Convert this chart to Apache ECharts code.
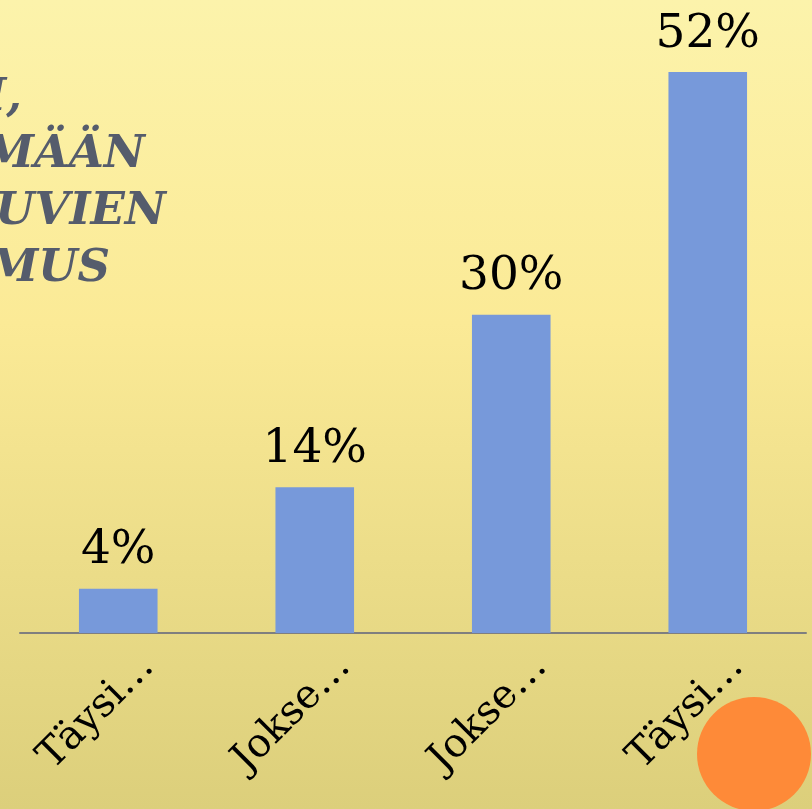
<!DOCTYPE html>
<html>
<head>
<meta charset="utf-8">
<script src="https://cdn.jsdelivr.net/npm/echarts@6/dist/echarts.min.js"></script>
<style>
html,body{margin:0;padding:0;}
#chart{width:812px;height:809px;}
</style>
</head>
<body>
<div id="chart"></div>
<script>
// data
var categories = ['Täysin eri mieltä', 'Jokseenkin eri mieltä', 'Jokseenkin samaa mieltä', 'Täysin samaa mieltä'];
var shortNames = ['Täysi…', 'Jokse…', 'Jokse…', 'Täysi…'];
var values = [4.1, 13.5, 29.5, 52];
var valueLabels = ['4%', '14%', '30%', '52%'];
var titleLines = ['M,', 'MÄÄN', 'UVIEN', 'MUS'];

var myChart = echarts.init(document.getElementById('chart'));

var titleRight = [22, 145, 166, 110];
var graphics = [];
for (var i = 0; i < titleLines.length; i++) {
	graphics.push({
		type: 'text',
		x: titleRight[i],
		y: 76 + i * 57,
		silent: true,
		style: {
			text: titleLines[i],
			align: 'right',
			fill: '#555c6c',
			font: 'italic bold 45px "DejaVu Serif"'
		}
	});
}
// orange dot in the corner
graphics.push({
	type: 'circle',
	x: 754,
	y: 754,
	silent: true,
	shape: {r: 57},
	style: {fill: '#fe8a38'}
});

var option = {
	animation: false,
	backgroundColor: new echarts.graphic.LinearGradient(0, 0, 0, 1, [
		{offset: 0, color: '#fcf3ab'},
		{offset: 0.4, color: '#fbea96'},
		{offset: 1, color: '#dccf7b'}
	]),
	grid: {
		left: 20,
		right: 6,
		top: 72,
		bottom: 176
	},
	xAxis: {
		type: 'category',
		data: categories,
		axisTick: {show: false},
		axisLine: {
			lineStyle: {color: '#7f7f7f', width: 2}
		},
		axisLabel: {
			interval: 0,
			rotate: 45,
			margin: -2,
			align: 'right',
			verticalAlign: 'top',
			lineHeight: 84,
			color: '#000',
			fontFamily: 'DejaVu Serif',
			fontSize: 40,
			formatter: function (v, idx) {
				return shortNames[idx];
			}
		}
	},
	yAxis: {
		type: 'value',
		min: 0,
		max: 52,
		show: false,
		splitLine: {show: false}
	},
	series: [{
		type: 'bar',
		data: values,
		barWidth: '40%',
		itemStyle: {color: '#7799da'},
		label: {
			show: true,
			position: 'top',
			distance: 14,
			color: '#000',
			fontFamily: 'DejaVu Serif',
			fontSize: 47,
			formatter: function (p) {
				return valueLabels[p.dataIndex];
			}
		}
	}],
	graphic: graphics
};

myChart.setOption(option);
</script>
</body>
</html>
